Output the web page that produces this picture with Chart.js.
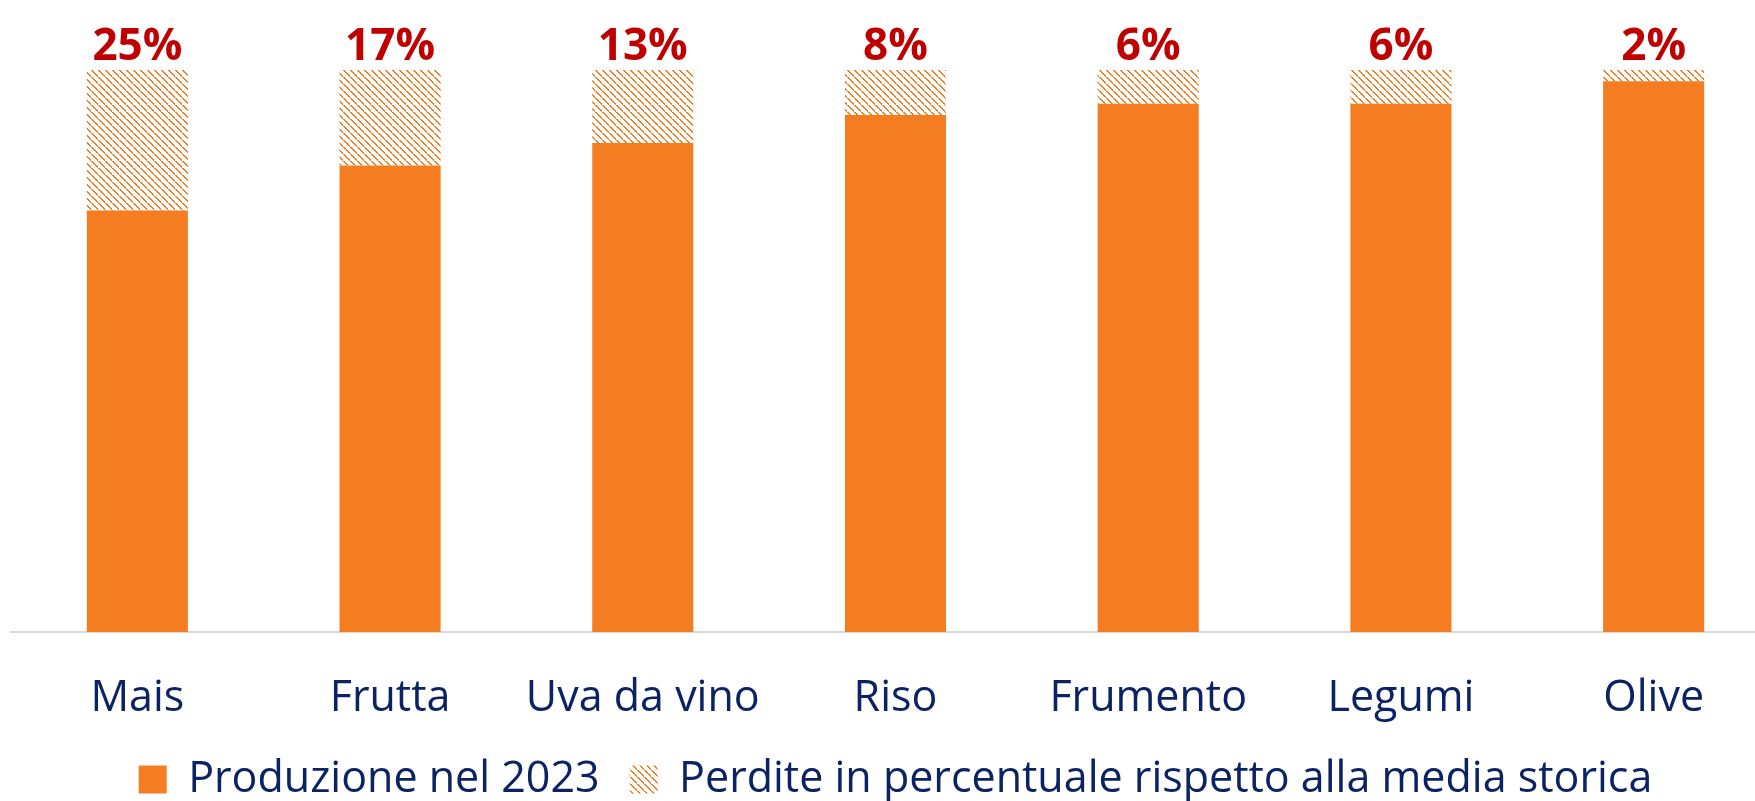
<!DOCTYPE html>
<html>
<head>
<meta charset="utf-8">
<script src="https://cdn.jsdelivr.net/npm/chart.js@4"></script>
<style>
  body { margin: 0; background: #fff; overflow: hidden; }
  #wrap { width: 1780px; height: 817px; position: relative; }
</style>
</head>
<body>
<div id="wrap"><canvas id="chart"></canvas></div>
<script>
const categories = ['Mais', 'Frutta', 'Uva da vino', 'Riso', 'Frumento', 'Legumi', 'Olive'];
const losses = [25, 17, 13, 8, 6, 6, 2];            // perdite % rispetto alla media storica
const production = losses.map(v => 100 - v);         // quota prodotta nel 2023
const lossLabels = ['25%', '17%', '13%', '8%', '6%', '6%', '2%'];

const orange = '#F47D22';
const navy = '#0B2265';
const darkRed = '#C00000';

// hatch pattern ( \\\ direction )
function makeHatch() {
    const c = document.createElement('canvas');
    c.width = 7; c.height = 7;
    const g = c.getContext('2d');
    g.fillStyle = '#fff';
    g.fillRect(0, 0, 7, 7);
    g.fillStyle = orange;
    for (let i = 0; i < 7; i++) {
        g.fillRect(i, i, 2, 1);
    }
    return g.createPattern(c, 'repeat');
}

const ctx = document.getElementById('chart').getContext('2d');
const hatch = makeHatch();

// labels above the stacked bars
const topLabels = {
    id: 'topLabels',
    afterDatasetsDraw(chart) {
        const meta = chart.getDatasetMeta(1);
        const c = chart.ctx;
        c.save();
        c.font = 'bold 44px "Open Sans"';
        c.fillStyle = darkRed;
        c.textAlign = 'center';
        c.textBaseline = 'alphabetic';
        meta.data.forEach((bar, i) => {
            c.fillText(lossLabels[i], bar.x, bar.y - 10);
        });
        c.restore();
    }
};

new Chart(ctx, {
    type: 'bar',
    data: {
        labels: categories,
        datasets: [
            {
                label: 'Produzione nel 2023',
                data: production,
                backgroundColor: orange,
                categoryPercentage: 1,
                barPercentage: 0.4
            },
            {
                label: 'Perdite in percentuale rispetto alla media storica',
                data: losses,
                backgroundColor: hatch,
                categoryPercentage: 1,
                barPercentage: 0.4
            }
        ]
    },
    options: {
        responsive: true,
        maintainAspectRatio: false,
        animation: false,
        layout: { padding: { left: 11, top: 70, right: 0, bottom: 6 } },
        scales: {
            x: {
                stacked: true,
                grid: { display: false, drawTicks: false },
                border: { display: true, color: '#D9D9D9', width: 2 },
                ticks: {
                    color: navy,
                    font: { family: 'Open Sans', size: 43 },
                    padding: 41
                },
                afterFit(scale) { scale.height = 96; }
            },
            y: {
                stacked: true,
                display: false,
                min: 0,
                max: 100
            }
        },
        plugins: {
            legend: {
                position: 'bottom',
                align: 'center',
                labels: {
                    color: navy,
                    font: { family: 'Open Sans', size: 43 },
                    boxWidth: 28,
                    boxHeight: 28,
                    padding: 30
                }
            },
            tooltip: { enabled: false }
        }
    },
    plugins: [topLabels]
});
</script>
</body>
</html>
